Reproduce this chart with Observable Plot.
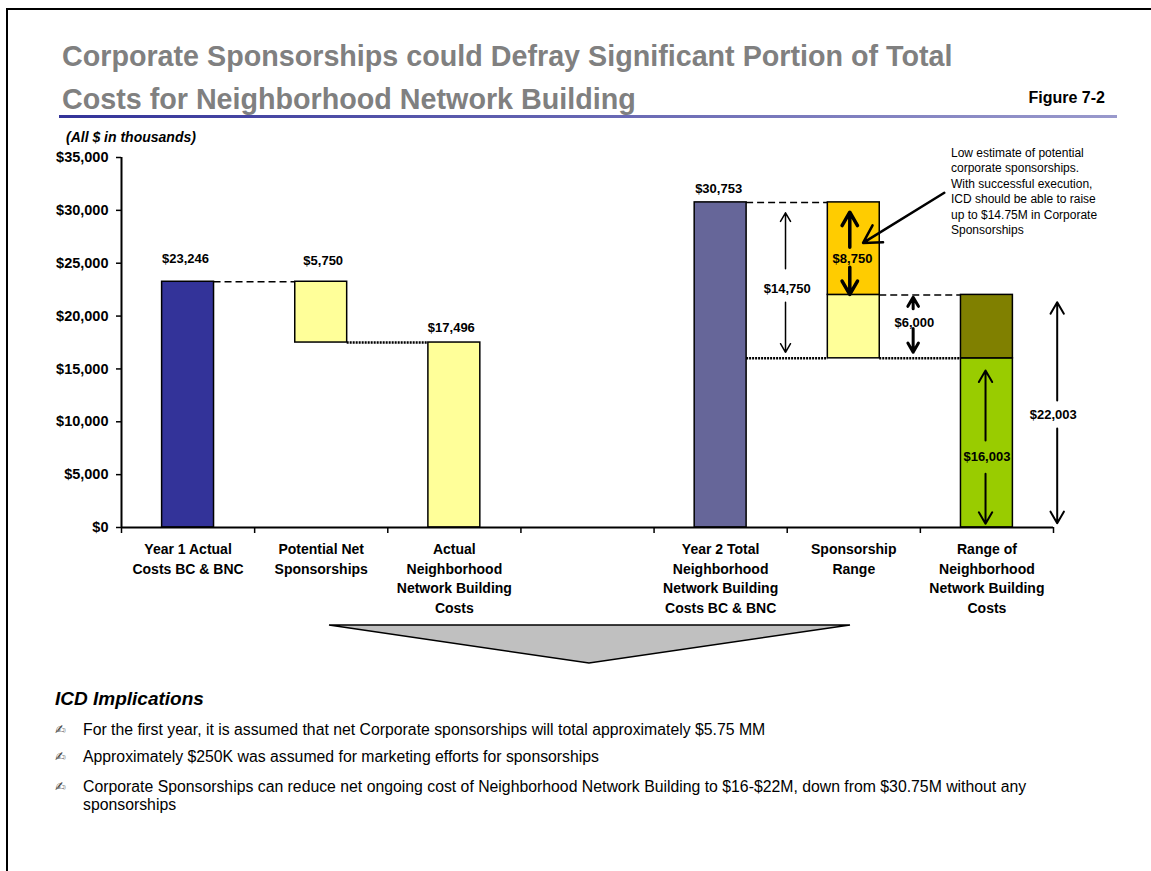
<!DOCTYPE html>
<html><head><meta charset="utf-8">
<script src="https://cdn.jsdelivr.net/npm/d3@7"></script>
<script src="https://cdn.jsdelivr.net/npm/@observablehq/plot@0.6"></script>
<style>
html,body{margin:0;padding:0;background:#fff;}
body{width:1151px;height:871px;position:relative;overflow:hidden;font-family:"Liberation Sans",Arial,sans-serif;color:#000;}
.abs{position:absolute;}
#frame{left:6px;top:8px;width:1300px;height:1000px;border:2px solid #000;}
#title{left:62px;top:35px;font-size:28.7px;font-weight:bold;color:#808080;line-height:43.3px;white-space:nowrap;}
#fig{left:1005px;width:100px;text-align:right;top:90px;font-size:16px;font-weight:bold;line-height:16px;white-space:nowrap;}
#rule{left:59px;top:115px;width:1058px;height:3.4px;background:linear-gradient(to right,#333399,#9999cc);}
#units{left:66px;top:130px;font-size:14px;font-weight:bold;font-style:italic;line-height:14px;white-space:nowrap;}
#chart{left:0;top:140px;}
#note{left:951px;top:146px;font-size:12px;line-height:15.4px;white-space:nowrap;}
#tri{left:0;top:0;}
#implTitle{left:55px;top:689px;font-size:19px;font-weight:bold;font-style:italic;line-height:19px;white-space:nowrap;}
.bul{position:absolute;left:55px;font-size:13px;line-height:18px;color:#444;font-family:"DejaVu Sans",sans-serif;}
.btx{position:absolute;left:83px;font-size:15.8px;line-height:18px;white-space:nowrap;}
</style>
</head><body>
<div id="frame" class="abs"></div>
<div id="title" class="abs">Corporate Sponsorships could Defray Significant Portion of Total<br>Costs for Neighborhood Network Building</div>
<div id="fig" class="abs">Figure 7-2</div>
<div id="rule" class="abs"></div>
<div id="units" class="abs">(All $ in thousands)</div>
<div id="chart" class="abs"></div>
<div id="note" class="abs">Low estimate of potential<br>corporate sponsorships.<br>With successful execution,<br>ICD should be able to raise<br>up to $14.75M in Corporate<br>Sponsorships</div>
<svg id="tri" class="abs" width="1151" height="871" style="pointer-events:none"><polygon points="329,625 850,625 589,663" fill="#c0c0c0" stroke="#000" stroke-width="1.5"/></svg>
<div id="implTitle" class="abs">ICD Implications</div>
<div class="bul" style="top:721px">✍</div><div class="btx" style="top:721px">For the first year, it is assumed that net Corporate sponsorships will total approximately $5.75 MM</div>
<div class="bul" style="top:748px">✍</div><div class="btx" style="top:748px">Approximately $250K was assumed for marketing efforts for sponsorships</div>
<div class="bul" style="top:778px">✍</div><div class="btx" style="top:778px">Corporate Sponsorships can reduce net ongoing cost of Neighborhood Network Building to $16-$22M, down from $30.75M without any<br>sponsorships</div>
<script>
// ---- data ----
const categories = [
  "Year 1 Actual\nCosts BC & BNC",
  "Potential Net\nSponsorships",
  "Actual\nNeighborhood\nNetwork Building\nCosts",
  "",
  "Year 2 Total\nNeighborhood\nNetwork Building\nCosts BC & BNC",
  "Sponsorship\nRange",
  "Range of\nNeighborhood\nNetwork Building\nCosts"
];
const yTicks = [0, 5000, 10000, 15000, 20000, 25000, 30000, 35000];
const year1Total = 23246;
const year1Sponsorships = 5750;
const year1Net = 17496;
const year2Total = 30753;
const sponsorshipLow = 6000;
const sponsorshipUpside = 8750;
const sponsorshipHigh = 14750;
const year2NetLow = 16003;
const year2NetHigh = 22003;

const segments = [
  {cat: 0, y1: 0, y2: year1Total, kind: "year1"},
  {cat: 1, y1: year1Net, y2: year1Total, kind: "sponsor"},
  {cat: 2, y1: 0, y2: year1Net, kind: "sponsor"},
  {cat: 4, y1: 0, y2: year2Total, kind: "year2"},
  {cat: 5, y1: year2NetLow, y2: year2NetHigh, kind: "sponsor"},
  {cat: 5, y1: year2NetHigh, y2: year2Total, kind: "upside"},
  {cat: 6, y1: 0, y2: year2NetLow, kind: "netLow"},
  {cat: 6, y1: year2NetLow, y2: year2NetHigh, kind: "netRange"}
];
const connectors = [
  {from: 0, to: 1, y: year1Total, kind: "dashed"},
  {from: 1, to: 2, y: year1Net, kind: "dotted"},
  {from: 4, to: 5, y: year2Total, kind: "dashed"},
  {from: 4, to: 5, y: year2NetLow, kind: "dotted"},
  {from: 5, to: 6, y: year2NetHigh, kind: "dashed"},
  {from: 5, to: 6, y: year2NetLow, kind: "dotted"}
];
const topLabels = [
  {cat: 0, y: year1Total, value: year1Total},
  {cat: 1, y: year1Total, value: year1Sponsorships},
  {cat: 2, y: year1Net, value: year1Net},
  {cat: 4, y: year2Total, value: year2Total}
];

// ---- styles ----
const colors = {year1: "#333399", sponsor: "#FFFF99", year2: "#666699", upside: "#FFCC00", netLow: "#99CC00", netRange: "#808000"};
const BW = 0.39;
const leftEdge = c => c + (1 - BW) / 2;
const rightEdge = c => c + (1 + BW) / 2;
const fmt = d3.format("$,");
const topDy = [-23, -21, -15, -13.6];
const topDx = [-2.6, 2, -3, -2];

function span(o) {
  const d = [{x: o.x, lo: o.lo, hi: o.hi, mid: (o.lo + o.hi) / 2}];
  const common = {x1: "x", x2: "x", y1: "mid", dx: o.dx, stroke: "#000", strokeWidth: o.sw, headLength: o.head, headAngle: 60};
  return [
    Plot.arrow(d, {...common, y2: "hi", insetStart: o.upStart, insetEnd: o.upEnd}),
    Plot.arrow(d, {...common, y2: "lo", insetStart: o.downStart, insetEnd: o.downEnd}),
    Plot.text(d, {x: "x", y: "mid", dx: o.ldx, dy: o.ldy, text: () => fmt(o.value), fontSize: 13, fontWeight: "bold"})
  ];
}

const noteAnchor = [{x1: 6.18, y1: 31660, x2: 5.5, y2: (year2NetHigh + year2Total) / 2}];

const chart = Plot.plot({
  width: 1151, height: 480,
  marginLeft: 121, marginRight: 98, marginTop: 17, marginBottom: 93,
  x: {domain: [0, 7], axis: null},
  y: {domain: [0, 35000], axis: null},
  color: {domain: Object.keys(colors), range: Object.values(colors)},
  style: {fontFamily: "'Liberation Sans', Arial, sans-serif", fontSize: "13px", color: "#000", background: "transparent", overflow: "visible"},
  marks: [
    Plot.rect(segments, {x1: d => leftEdge(d.cat), x2: d => rightEdge(d.cat), y1: "y1", y2: "y2", fill: "kind", stroke: "#000", strokeWidth: 1.5}),
    Plot.ruleY(connectors.filter(d => d.kind === "dashed"), {y: "y", x1: d => rightEdge(d.from), x2: d => leftEdge(d.to), strokeWidth: 1.5, strokeDasharray: "7,4"}),
    Plot.ruleY(connectors.filter(d => d.kind === "dotted"), {y: "y", x1: d => rightEdge(d.from), x2: d => leftEdge(d.to), strokeWidth: 2.5, strokeDasharray: "2,1"}),
    Plot.axisY({ticks: yTicks, tickFormat: fmt, tickSize: 5, tickPadding: 8, fontSize: 14.5, fontWeight: "bold", strokeWidth: 1.5}),
    Plot.axisX({ticks: d3.range(8), tickSize: 6, tickFormat: () => "", strokeWidth: 1.5}),
    Plot.ruleX([0], {y1: 0, y2: 35000, strokeWidth: 2}),
    Plot.ruleY([0], {strokeWidth: 2}),
    Plot.text(categories, {x: (d, i) => i + 0.5, y: () => 0, text: d => d, lineAnchor: "top", dy: 13, fontSize: 14, fontWeight: "bold", lineHeight: 1.39}),
    ...topLabels.map((t, i) => Plot.text([t], {x: d => d.cat + 0.5, y: "y", text: d => fmt(d.value), dx: topDx[i], dy: topDy[i], fontSize: 13, fontWeight: "bold"})),
    ...span({x: 5, lo: year2NetLow, hi: year2Total, value: sponsorshipHigh, dx: -1.7, ldx: 0, ldy: 8, upStart: 11.6, upEnd: 10.4, downStart: 21.8, downEnd: 6, sw: 1.5, head: 10}),
    ...span({x: 5.5, lo: year2NetHigh, hi: year2Total, value: sponsorshipUpside, dx: -4, ldx: -1.3, ldy: 10, upStart: 1.5, upEnd: 9.8, downStart: 18.5, downEnd: 0.5, sw: 3.5, head: 9}),
    ...span({x: 6, lo: year2NetLow, hi: year2NetHigh, value: sponsorshipLow, dx: -7.2, ldx: -6, ldy: -4, upStart: 17.8, upEnd: 2.3, downStart: 1.9, downEnd: 6.1, sw: 3, head: 9}),
    ...span({x: 6.5, lo: 0, hi: year2NetLow, value: year2NetLow, dx: -1.4, ldx: 0, ldy: 14, upStart: 2.4, upEnd: 12.2, downStart: 30.9, downEnd: 3.7, sw: 2, head: 10}),
    ...span({x: 7, lo: 0, hi: year2NetHigh, value: year2NetHigh, dx: 3.7, ldx: -0.3, ldy: 3.6, upStart: 10.7, upEnd: 7.3, downStart: 17.3, downEnd: 4.3, sw: 2, head: 10}),
    Plot.arrow(noteAnchor, {x1: "x1", y1: "y1", x2: "x2", y2: "y2", insetEnd: 10.9, strokeWidth: 2.5, stroke: "#000", headLength: 12, headAngle: 60})
  ]
});
document.getElementById("chart").appendChild(chart);
</script>
</body></html>
